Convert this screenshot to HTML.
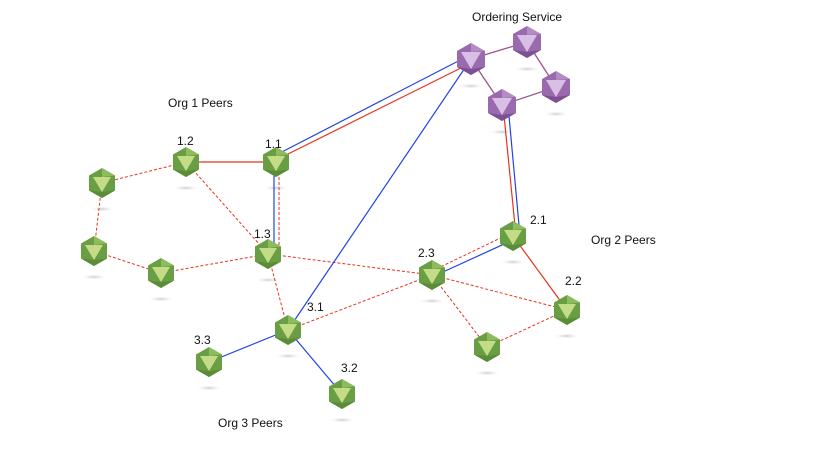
<!DOCTYPE html>
<html><head><style>body{margin:0;background:#fff}svg{display:block}text{font-family:"Liberation Sans",sans-serif;font-size:12px;fill:#111}</style></head>
<body>
<svg width="819" height="460" viewBox="0 0 819 460" xmlns="http://www.w3.org/2000/svg">
<defs>
<radialGradient id="sh"><stop offset="0" stop-color="#ccc"/><stop offset="1" stop-color="#fff" stop-opacity="0"/></radialGradient>
<g id="g">
<polygon points="0,-15 13,-7.5 13,7.5 0,15 -13,7.5 -13,-7.5" fill="#6a9e45"/>
<polygon points="0,-15 13,-7.5 0,-6" fill="#8cbc5c"/>
<polygon points="-9,-6 9,-6 0,9" fill="#c5dc86"/>
<polygon points="-13,7.5 0,15 13,7.5 0,9" fill="#5a8c3a"/>
</g>
<g id="p">
<polygon points="0,-16 14,-8 14,8 0,16 -14,8 -14,-8" fill="#9a6aae"/>
<polygon points="0,-16 14,-8 0,-7" fill="#b48cc4"/>
<polygon points="-10,-7 10,-7 0,10" fill="#d9bfe3"/>
<polygon points="-14,8 0,16 14,8 0,10" fill="#7d4f93"/>
</g>
</defs>
<g fill="url(#sh)">
<ellipse cx="186" cy="188" rx="14" ry="3"/><ellipse cx="276" cy="188" rx="14" ry="3"/><ellipse cx="102" cy="209" rx="14" ry="3"/><ellipse cx="94" cy="277" rx="14" ry="3"/><ellipse cx="161" cy="299" rx="14" ry="3"/><ellipse cx="268" cy="280" rx="14" ry="3"/><ellipse cx="288" cy="356" rx="14" ry="3"/><ellipse cx="209" cy="388" rx="14" ry="3"/><ellipse cx="342" cy="420" rx="14" ry="3"/><ellipse cx="432" cy="301" rx="14" ry="3"/><ellipse cx="513" cy="262" rx="14" ry="3"/><ellipse cx="567" cy="336" rx="14" ry="3"/><ellipse cx="487" cy="373" rx="14" ry="3"/>
<ellipse cx="471" cy="86" rx="14" ry="3"/><ellipse cx="527" cy="69" rx="14" ry="3"/><ellipse cx="556" cy="114" rx="14" ry="3"/><ellipse cx="502" cy="132" rx="14" ry="3"/>
</g>
<g stroke="#a0528c" stroke-width="1.3">
<line x1="471" y1="59" x2="527" y2="42"/><line x1="527" y1="42" x2="556" y2="87"/><line x1="556" y1="87" x2="502" y2="105"/><line x1="471" y1="59" x2="502" y2="105"/>
</g>
<g stroke="#e8321e" stroke-width="1" stroke-dasharray="3,2" fill="none">
<line x1="186" y1="162" x2="102" y2="183"/><line x1="102" y1="183" x2="94" y2="251"/><line x1="94" y1="251" x2="161" y2="273"/><line x1="161" y1="273" x2="268" y2="254"/><line x1="186" y1="162" x2="268" y2="254"/><line x1="268" y1="254" x2="288" y2="330"/><line x1="268" y1="254" x2="432" y2="275"/><line x1="288" y1="330" x2="432" y2="275"/><line x1="432" y1="275" x2="567" y2="310"/><line x1="432" y1="275" x2="487" y2="347"/><line x1="487" y1="347" x2="567" y2="310"/><line x1="279" y1="162" x2="279" y2="254"/><line x1="432" y1="271" x2="513" y2="232"/>
</g>
<g stroke="#e8321e" stroke-width="1.2" fill="none">
<line x1="186" y1="162" x2="276" y2="162"/><line x1="280" y1="158" x2="473" y2="62"/><line x1="503" y1="105" x2="516" y2="236"/><line x1="513" y1="236" x2="567" y2="310"/>
</g>
<g stroke="#2342e8" stroke-width="1.2" fill="none">
<line x1="276" y1="155" x2="470" y2="55"/><line x1="508" y1="105" x2="520" y2="236"/><line x1="274" y1="162" x2="274" y2="254"/><line x1="432" y1="277" x2="513" y2="240"/><line x1="288" y1="330" x2="471" y2="59"/><line x1="288" y1="330" x2="209" y2="362"/><line x1="288" y1="330" x2="342" y2="394"/>
</g>
<use href="#g" x="186" y="162"/><use href="#g" x="276" y="162"/><use href="#g" x="102" y="183"/><use href="#g" x="94" y="251"/><use href="#g" x="161" y="273"/><use href="#g" x="268" y="254"/><use href="#g" x="288" y="330"/><use href="#g" x="209" y="362"/><use href="#g" x="342" y="394"/><use href="#g" x="432" y="275"/><use href="#g" x="513" y="236"/><use href="#g" x="567" y="310"/><use href="#g" x="487" y="347"/>
<use href="#p" x="471" y="59"/><use href="#p" x="527" y="42"/><use href="#p" x="556" y="87"/><use href="#p" x="502" y="105"/>
<text x="472" y="21">Ordering Service</text>
<text x="168" y="107">Org 1 Peers</text>
<text x="591" y="244">Org 2 Peers</text>
<text x="218" y="427">Org 3 Peers</text>
<g style="font-size:11px">
<text x="177" y="145">1.2</text><text x="265" y="148">1.1</text><text x="254" y="238">1.3</text><text x="307" y="311">3.1</text><text x="194" y="344">3.3</text><text x="341" y="372">3.2</text><text x="418" y="257">2.3</text><text x="530" y="224">2.1</text><text x="565" y="285">2.2</text>
</g>
</svg>
</body></html>
